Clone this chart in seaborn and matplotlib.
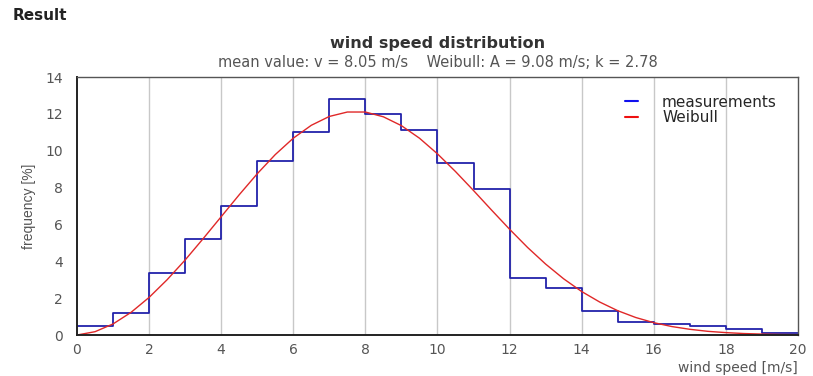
import matplotlib
matplotlib.use('Agg')
import matplotlib.pyplot as plt
from matplotlib.lines import Line2D
from matplotlib.ticker import MultipleLocator
import seaborn as sns
import pandas as pd

# Measured frequency per 1 m/s bin (left edge 0..19)
bin_left = list(range(0, 20))
freq_measured = [0.47, 1.2, 3.36, 5.2, 7.0, 9.43, 11.0, 12.8, 12.0, 11.1,
                 9.32, 7.95, 3.09, 2.56, 1.32, 0.72, 0.6, 0.49, 0.35, 0.13]

# Weibull curve (every 0.5 m/s)
weib_x = [i * 0.5 for i in range(41)]
weib_y = [0.0, 0.18, 0.60, 1.23, 2.04, 3.00, 4.07, 5.23, 6.42, 7.61,
          8.75, 9.79, 10.68, 11.38, 11.86, 12.10, 12.10, 11.84, 11.36, 10.68,
          9.83, 8.87, 7.84, 6.78, 5.74, 4.75, 3.85, 3.05, 2.36, 1.79,
          1.32, 0.95, 0.67, 0.46, 0.31, 0.20, 0.13, 0.08, 0.05, 0.03, 0.02]

x_ticks = list(range(0, 21, 2))
y_ticks = list(range(0, 15, 2))

sns.set_style('white')
plt.rcParams['font.family'] = ['DejaVu Sans']

fig = plt.figure(figsize=(8.13, 3.76), dpi=100)
ax = fig.add_axes([0.0947, 0.109, 0.8868, 0.6862])

# step line: each bin value held until the next edge, last one until 20
meas = pd.DataFrame({'speed': bin_left + [bin_left[-1] + 1],
                     'freq': freq_measured + [freq_measured[-1]]})
sns.lineplot(data=meas, x='speed', y='freq', drawstyle='steps-post',
             color='#2222aa', linewidth=1.3, ax=ax)

weib = pd.DataFrame({'speed': weib_x, 'freq': weib_y})
sns.lineplot(data=weib, x='speed', y='freq', color='#e02828', linewidth=1.0, ax=ax)

ax.set_xlim(0, 20)
ax.set_ylim(0, 14)
ax.set_xticks(x_ticks)
ax.set_yticks(y_ticks)
ax.xaxis.set_minor_locator(MultipleLocator(1))
ax.yaxis.set_minor_locator(MultipleLocator(1))
ax.tick_params(axis='both', which='major', direction='in', length=0,
               labelsize=10, labelcolor='#555555', pad=6)
ax.tick_params(axis='y', which='major', length=3, color='#666666', pad=10)
ax.tick_params(axis='both', which='minor', direction='in', length=3,
               color='#666666', width=0.8)
ax.grid(False)
for xv in x_ticks[1:-1]:
    ax.axvline(xv, color='#c8c8c8', linewidth=1.0, zorder=0)

ax.set_xlabel('')
ax.set_ylabel('frequency [%]', fontsize=10, color='#555555',
              family='Liberation Sans', labelpad=7)

for side in ['left', 'bottom']:
    ax.spines[side].set_color('#222222')
    ax.spines[side].set_linewidth(1.4)
for side in ['top', 'right']:
    ax.spines[side].set_color('#555555')
    ax.spines[side].set_linewidth(1.0)

handles = [Line2D([0], [0], color='#1010ee', linewidth=1.5),
           Line2D([0], [0], color='#ee1010', linewidth=1.5)]
ax.legend(handles, ['measurements', 'Weibull'], loc='upper right',
          bbox_to_anchor=(0.99, 0.985), frameon=False, fontsize=11,
          handlelength=0.8, handletextpad=1.6, labelspacing=0.05)

fig.text(0.015, 0.960, 'Result', fontsize=11, fontweight='bold',
         color='#222222', va='center')
fig.text(0.538, 0.883, 'wind speed distribution', fontsize=11.5, fontweight='bold',
         color='#333333', ha='center', va='center')
fig.text(0.538, 0.835, 'mean value: v = 8.05 m/s    Weibull: A = 9.08 m/s; k = 2.78',
         fontsize=10.5, color='#555555', ha='center', va='center')
fig.text(0.981, 0.022, 'wind speed [m/s]', fontsize=10, color='#555555',
         ha='right', va='center')

fig.savefig('out.png', dpi=100)
